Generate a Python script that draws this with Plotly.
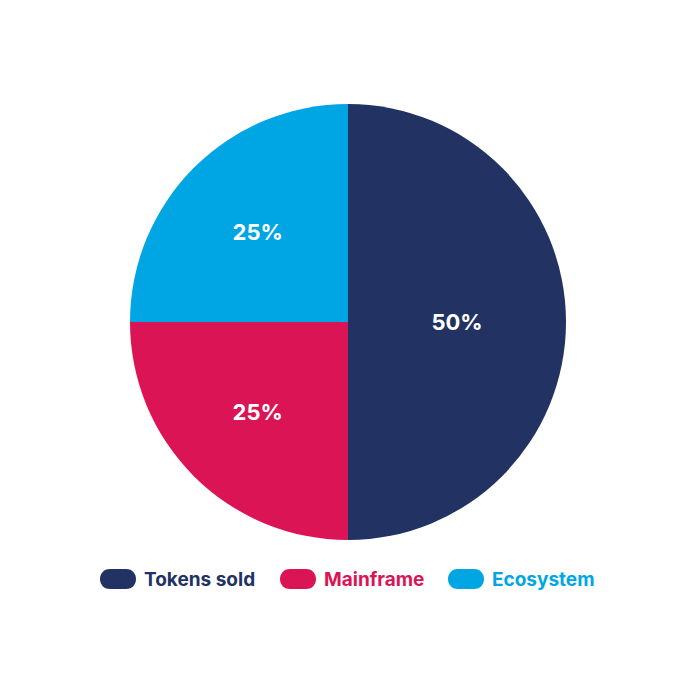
import plotly.graph_objects as go

categories = ["Tokens sold", "Mainframe", "Ecosystem"]
values = [50, 25, 25]
colors = ["#213263", "#DB1456", "#00A5E3"]

W = H = 696
fig = go.Figure()
fig.add_trace(go.Pie(
    labels=categories, values=values, sort=False, direction="clockwise", rotation=0,
    marker=dict(colors=colors, line=dict(width=0)),
    textinfo="percent", texttemplate="<b>%{percent:.0%}</b>",
    textposition="inside", insidetextorientation="horizontal",
    textfont=dict(family="Inter, Lato, sans-serif", size=22, color="white"),
    domain=dict(x=[130 / W, 566 / W], y=[1 - 540 / H, 1 - 104 / H]),
    showlegend=False, hoverinfo="label+percent",
))

# custom legend (pill markers + colored labels)
pill_x = [100, 280, 448]
pill_w, pill_h, leg_y = 36, 20, 579
k = 4.0 / 3.0
shapes, annots = [], []
for cat, col, x0 in zip(categories, colors, pill_x):
    r = pill_h / 2
    x1 = x0 + pill_w
    y0, y1 = H - (leg_y + r), H - (leg_y - r)
    path = (f"M {x0 + r},{y0} L {x1 - r},{y0} "
            f"C {x1 - r + k * r},{y0} {x1 - r + k * r},{y1} {x1 - r},{y1} "
            f"L {x0 + r},{y1} "
            f"C {x0 + r - k * r},{y1} {x0 + r - k * r},{y0} {x0 + r},{y0} Z")
    shapes.append(dict(type="path", path=path, xref="x", yref="y",
                       fillcolor=col, line=dict(width=0)))
    annots.append(dict(x=x1 + 6, y=H - leg_y, xref="x", yref="y", text=f"<b>{cat}</b>",
                       showarrow=False, xanchor="left", yanchor="middle",
                       font=dict(family="Inter, Lato, sans-serif", size=19, color=col)))

fig.update_layout(
    width=W, height=H, margin=dict(l=0, r=0, t=0, b=0),
    paper_bgcolor="white", plot_bgcolor="white",
    xaxis=dict(range=[0, W], visible=False, fixedrange=True),
    yaxis=dict(range=[0, H], visible=False, fixedrange=True),
    shapes=shapes, annotations=annots,
)
fig.write_html("out.html")
